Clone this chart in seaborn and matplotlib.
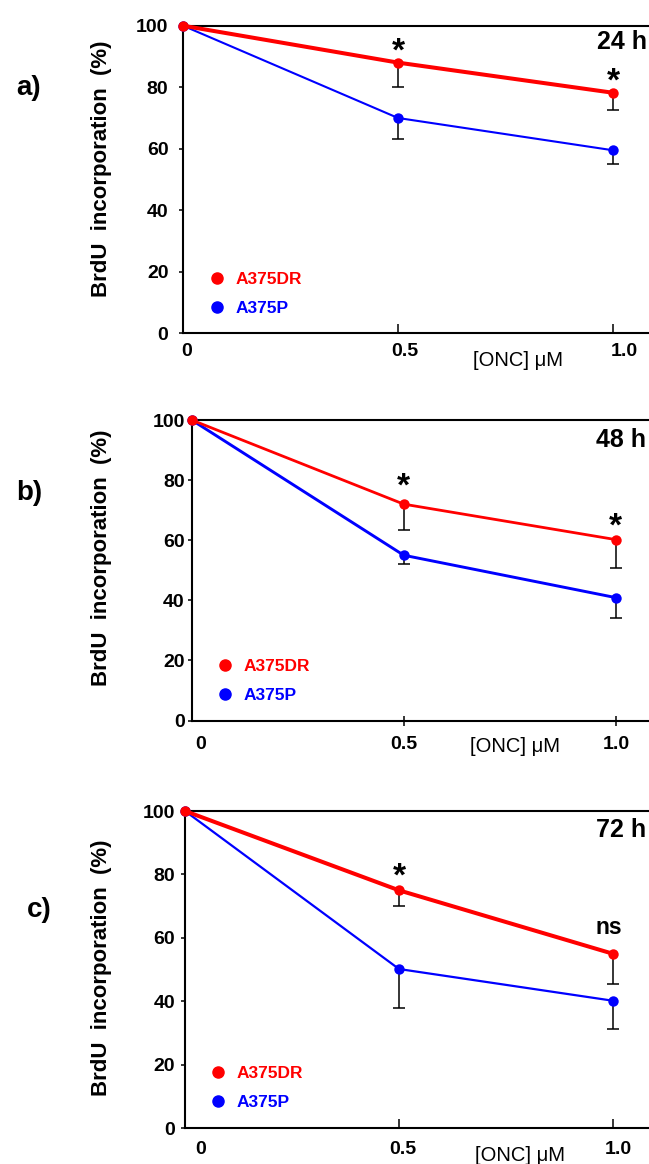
import matplotlib.pyplot as plt
import seaborn as sns
from matplotlib.lines import Line2D
from matplotlib.transforms import ScaledTranslation

# ONC concentration (uM)
dose = [0.0, 0.5, 1.0]
dose_labels = ["0", "0.5", "1.0"]
y_ticks = [0, 20, 40, 60, 80, 100]

# BrdU incorporation (% of untreated), mean and lower error bar
dr_24 = [100, 88.0, 78.2]
dr_24_err = [0, 7.8, 5.5]
p_24 = [100, 70.0, 59.5]
p_24_err = [0, 6.7, 4.6]

dr_48 = [100, 72.0, 60.2]
dr_48_err = [0, 8.7, 9.4]
p_48 = [100, 55.0, 40.9]
p_48_err = [0, 3.0, 6.8]

dr_72 = [100, 75.0, 55.0]
dr_72_err = [0, 4.8, 9.5]
p_72 = [100, 50.2, 40.2]
p_72_err = [0, 12.3, 9.0]

# significance of A375DR vs A375P at 0.5 and 1.0 uM
sig_24 = ["*", "*"]
sig_48 = ["*", "*"]
sig_72 = ["*", "ns"]

times = ["24 h", "48 h", "72 h"]
tags = ["a)", "b)", "c)"]
series_names = ["A375DR", "A375P"]

RED = "#ff0000"
BLUE = "#0000ff"

sns.set_style("ticks")
plt.rcParams["font.family"] = ["Liberation Sans", "DejaVu Sans"]
plt.rcParams["text.color"] = "black"
plt.rcParams["axes.labelcolor"] = "black"
plt.rcParams["xtick.color"] = "black"
plt.rcParams["ytick.color"] = "black"

W, H = 649, 1164
fig = plt.figure(figsize=(W / 100, H / 100), dpi=100)

# per panel layout, pixels: axes left, top, bottom, px per x unit
panels = [
    dict(left=183, top=25.7, bottom=333.3, ppu=430,
         dr=dr_24, dr_err=dr_24_err, p=p_24, p_err=p_24_err, sig=sig_24,
         lw_dr=2.9, lw_p=1.5, xdir="in", xpad=7.0, ypad=7.5,
         lab_dx=[4, 7, 11], sig_off=[1.5, 1.8], time_x=0.963, time_y=94.7,
         tag_xy=(29, 88), ylab_y=0.535, xlab=(0.677, -0.087),
         leg=(0.0546, 0.056)),
    dict(left=191.7, top=420, bottom=720.5, ppu=424,
         dr=dr_48, dr_err=dr_48_err, p=p_48, p_err=p_48_err, sig=sig_48,
         lw_dr=2.0, lw_p=2.1, xdir="inout", xpad=8.0, ypad=2.0,
         lab_dx=[9, 0, 1], sig_off=[6.0, 3.0], time_x=0.954, time_y=93.3,
         tag_xy=(29, 493), ylab_y=0.54, xlab=(0.664, -0.087),
         leg=(0.0535, 0.058)),
    dict(left=185, top=811, bottom=1128.3, ppu=428,
         dr=dr_72, dr_err=dr_72_err, p=p_72, p_err=p_72_err, sig=sig_72,
         lw_dr=2.9, lw_p=1.6, xdir="in", xpad=9.0, ypad=4.0,
         lab_dx=[16, 4, 5], sig_off=[3.2, 19.0], time_x=0.960, time_y=94.0,
         tag_xy=(39.5, 910), ylab_y=0.505, xlab=(0.681, -0.087),
         leg=(0.052, 0.059)),
]

XMAX = 1.15


def lower_errbars(ax, y, err):
    eb = ax.errorbar(dose[1:], y[1:], yerr=[err[1:], [0] * len(err[1:])],
                     fmt="none", ecolor="black", elinewidth=1.1,
                     capsize=4.3, capthick=1.1, zorder=2)
    # only the lower cap is drawn
    eb.lines[1][1].set_visible(False)


for i, cfg in enumerate(panels):
    w_px = XMAX * cfg["ppu"]
    h_px = cfg["bottom"] - cfg["top"]
    ax = fig.add_axes([cfg["left"] / W, 1 - cfg["bottom"] / H, w_px / W, h_px / H])

    lower_errbars(ax, cfg["dr"], cfg["dr_err"])
    lower_errbars(ax, cfg["p"], cfg["p_err"])

    sns.lineplot(x=dose, y=cfg["p"], ax=ax, color=BLUE, lw=cfg["lw_p"],
                 marker="o", markersize=7.5, markeredgewidth=0,
                 markeredgecolor=BLUE, clip_on=False, zorder=4)
    sns.lineplot(x=dose, y=cfg["dr"], ax=ax, color=RED, lw=cfg["lw_dr"],
                 marker="o", markersize=7.5, markeredgewidth=0,
                 markeredgecolor=RED, clip_on=False, zorder=5)

    ax.set_xlim(0, XMAX)
    ax.set_ylim(0, 100)
    ax.set_xticks(dose)
    ax.set_xticklabels(dose_labels)
    ax.set_yticks(y_ticks)
    ax.tick_params(axis="x", direction=cfg["xdir"], length=6.5, width=1.1,
                   pad=cfg["xpad"], labelsize=14, color="black")
    ax.tick_params(axis="y", direction="out", length=3, width=1.1,
                   pad=cfg["ypad"], labelsize=14, color="black")
    ax.xaxis.get_major_ticks()[0].tick1line.set_visible(False)
    for lab in ax.get_xticklabels() + ax.get_yticklabels():
        lab.set_fontweight("bold")
        lab.set_color("black")
    for lab, dx in zip(ax.get_xticklabels(), cfg["lab_dx"]):
        lab.set_transform(lab.get_transform()
                          + ScaledTranslation(dx / 100, 0, fig.dpi_scale_trans))

    for side in ["left", "bottom", "top"]:
        ax.spines[side].set_linewidth(1.5)
        ax.spines[side].set_color("black")
    ax.spines["right"].set_visible(False)

    ax.set_ylabel("BrdU  incorporation  (%)", fontsize=16, fontweight="bold",
                  va="center", ha="center", color="black")
    ylab_x = (101.5 - cfg["left"]) / w_px
    ax.yaxis.set_label_coords(ylab_x, cfg["ylab_y"])
    ax.set_xlabel("[ONC] μM", fontsize=14.5, va="center", ha="center",
                  color="black")
    ax.xaxis.set_label_coords(*cfg["xlab"])

    # significance marks above the A375DR points
    for x, y, s, off in zip(dose[1:], cfg["dr"][1:], cfg["sig"], cfg["sig_off"]):
        if s == "*":
            ax.annotate(s, xy=(x, y), xytext=(0, off), textcoords="offset points",
                        ha="center", va="baseline", fontsize=24,
                        fontweight="bold", color="black")
        else:
            ax.annotate(s, xy=(x - 0.009, y), xytext=(0, off),
                        textcoords="offset points", ha="center", va="center",
                        fontsize=16.5, fontweight="bold", color="black")

    ax.text(cfg["time_x"], cfg["time_y"], times[i], ha="left", va="center",
            fontsize=18, fontweight="bold", color="black")

    handles = [Line2D([], [], ls="none", marker="o", markersize=8, color=RED),
               Line2D([], [], ls="none", marker="o", markersize=8, color=BLUE)]
    ax.legend(handles, series_names, loc="lower left", bbox_to_anchor=cfg["leg"],
              frameon=False, borderpad=0, borderaxespad=0, handlelength=0.8,
              handletextpad=0.7, labelspacing=0.78, labelcolor="linecolor",
              prop={"weight": "bold", "size": 12.5})

    fig.text(cfg["tag_xy"][0] / W, 1 - cfg["tag_xy"][1] / H, tags[i],
             ha="center", va="center", fontsize=20, fontweight="bold",
             color="black")

fig.savefig("out.png", dpi=100)
